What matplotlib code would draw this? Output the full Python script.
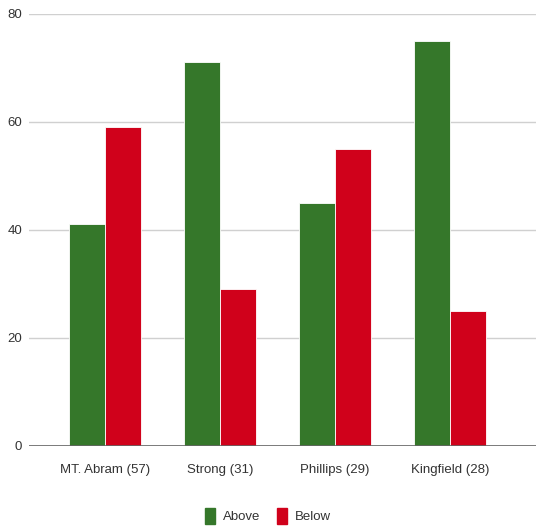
import numpy as np
import matplotlib
matplotlib.use("Agg")
import matplotlib.pyplot as plt
from matplotlib.patches import Patch

# data
towns = ["MT. Abram (57)", "Strong (31)", "Phillips (29)", "Kingfield (28)"]
above = [41, 71, 45, 75]
below = [59, 29, 55, 25]

green = "#35772a"
red = "#d0011b"

plt.rcParams["font.family"] = ["Liberation Sans", "DejaVu Sans"]

fig = plt.figure(figsize=(5.36, 5.29), dpi=100)
ax = fig.add_axes([29 / 536, 83 / 529, 1 - 29 / 536, (515.5 - 83) / 529])

x = np.arange(len(towns))
w = 0.313
ax.bar(x - w / 2, above, w, color=green, edgecolor="white", linewidth=0.6, zorder=3)
ax.bar(x + w / 2, below, w, color=red, edgecolor="white", linewidth=0.6, zorder=3)

ax.set_xlim(-0.661, 3.748)
ax.set_ylim(0, 80)
ax.set_yticks([0, 20, 40, 60, 80])
ax.set_xticks(x)
ax.set_xticklabels(towns)
ax.grid(axis="y", color="#d0d0d0", linewidth=1, zorder=0)
ax.axhline(0, color="#666666", linewidth=1.2, zorder=4)
for s in ax.spines.values():
    s.set_visible(False)
ax.tick_params(length=0, labelsize=9.5, colors="#333333")
ax.tick_params(axis="x", pad=13)
ax.tick_params(axis="y", pad=5)

handles = [Patch(color=green, label="Above"), Patch(color=red, label="Below")]
fig.legend(handles=handles, loc="center", bbox_to_anchor=(0.5, 1 - 516 / 529), ncol=2,
           frameon=False, fontsize=9.5, handlelength=0.8, handleheight=1.6,
           handletextpad=0.6, columnspacing=1.2, labelcolor="#333333")

fig.savefig("out.png", dpi=100, facecolor="white")
